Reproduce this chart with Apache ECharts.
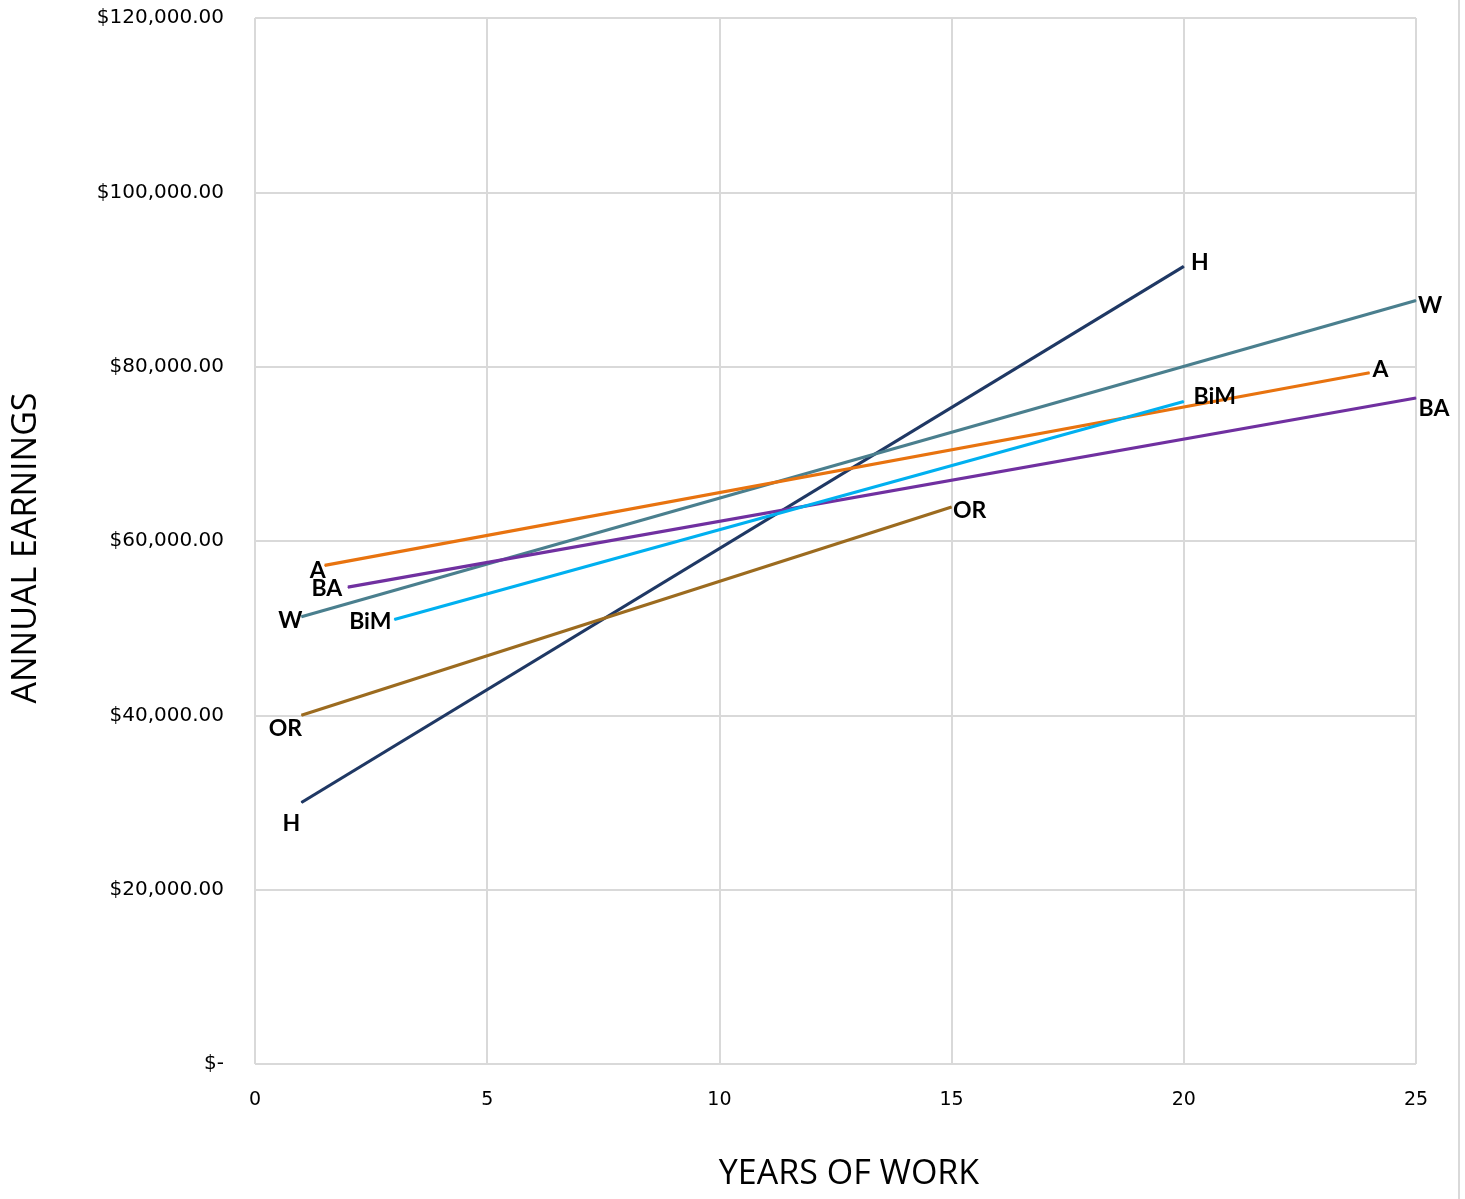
<!DOCTYPE html>
<html>
<head>
<meta charset="utf-8">
<title>Annual Earnings by Years of Work</title>
<script src="https://cdn.jsdelivr.net/npm/echarts@6/dist/echarts.min.js"></script>
<style>
  html, body { margin: 0; padding: 0; background: #fff; }
  #chart { width: 1465px; height: 1199px; }
</style>
</head>
<body>
<div id="chart"></div>
<script>
// Career earnings paths: [years of work, annual earnings]
const seriesNames = ['H', 'W', 'A', 'BA', 'BiM', 'OR'];
const H   = [[1, 30000], [20, 91500]];
const W   = [[1, 51300], [25, 87600]];
const A   = [[1.5, 57200], [24, 79300]];
const BA  = [[2, 54700], [25, 76400]];
const BiM = [[3, 51000], [20, 76000]];
const OR  = [[1, 40000], [15, 63900]];
const seriesData = { H, W, A, BA, BiM, OR };

const xTicks = [0, 5, 10, 15, 20, 25];
const yTicks = [0, 20000, 40000, 60000, 80000, 100000, 120000];

const colors = {
  H: '#1f3864',
  W: '#4a7f8e',
  A: '#e8730f',
  BA: '#7030a0',
  BiM: '#00b0f0',
  OR: '#9c6b1f'
};

// Label nudges (px) for the [start, end] tags of each line
const labelOffsets = {
  H:   [[-10, 21], [16, -4]],
  W:   [[-11, 4],  [14, 5]],
  A:   [[-7, 5],   [11, -3]],
  BA:  [[-21, 1],  [18, 11]],
  BiM: [[-24, 2],  [31, -5]],
  OR:  [[-16, 13], [18, 4]]
};

const fmtMoney = v => v === 0 ? '$-' :
  '$' + v.toLocaleString('en-US', { minimumFractionDigits: 2, maximumFractionDigits: 2 });

const tickFont = '"DejaVu Sans", sans-serif';
const titleFont = '"Open Sans", sans-serif';

const chart = echarts.init(document.getElementById('chart'));

const series = seriesNames.map(name => ({
  name,
  type: 'line',
  symbol: 'circle',
  symbolSize: 1,
  lineStyle: { color: colors[name], width: 3.2 },
  itemStyle: { color: colors[name] },
  emphasis: { disabled: true },
  z: 3,
  data: seriesData[name].map((pt, i) => ({
    value: pt,
    label: {
      show: true,
      position: 'inside',
      formatter: name,
      offset: labelOffsets[name][i],
      align: 'center',
      verticalAlign: 'middle',
      color: '#000',
      fontFamily: 'Lato, "Open Sans", sans-serif',
      fontWeight: 'bold',
      fontSize: 23
    }
  }))
}));

chart.setOption({
  animation: false,
  backgroundColor: '#fff',
  grid: { left: 255, top: 18, width: 1161, height: 1046, containLabel: false },
  xAxis: {
    type: 'value',
    min: xTicks[0],
    max: xTicks[xTicks.length - 1],
    interval: 5,
    name: 'YEARS OF WORK',
    nameLocation: 'middle',
    nameGap: 93,
    nameTextStyle: { fontSize: 34, color: '#000', fontFamily: titleFont, padding: [0, 0, 0, 27] },
    axisLine: { show: false },
    axisTick: { show: false },
    axisLabel: { fontSize: 19, color: '#000', margin: 27, fontFamily: tickFont },
    splitLine: { show: true, lineStyle: { color: '#d9d9d9', width: 2 } }
  },
  yAxis: {
    type: 'value',
    min: yTicks[0],
    max: yTicks[yTicks.length - 1],
    interval: 20000,
    name: 'ANNUAL EARNINGS',
    nameLocation: 'middle',
    nameGap: 212,
    nameRotate: 90,
    nameTextStyle: { fontSize: 34, color: '#000', fontFamily: titleFont, padding: [0, 14, 0, 0] },
    axisLine: { show: false },
    axisTick: { show: false },
    axisLabel: {
      fontSize: 20, color: '#000', margin: 31,
      fontFamily: tickFont,
      formatter: fmtMoney
    },
    splitLine: { show: true, lineStyle: { color: '#d9d9d9', width: 2 } }
  },
  graphic: [{
    type: 'line',
    shape: { x1: 1459, y1: 0, x2: 1459, y2: 1199 },
    style: { stroke: '#d9d9d9', lineWidth: 2 },
    silent: true
  }],
  series
});
</script>
</body>
</html>
